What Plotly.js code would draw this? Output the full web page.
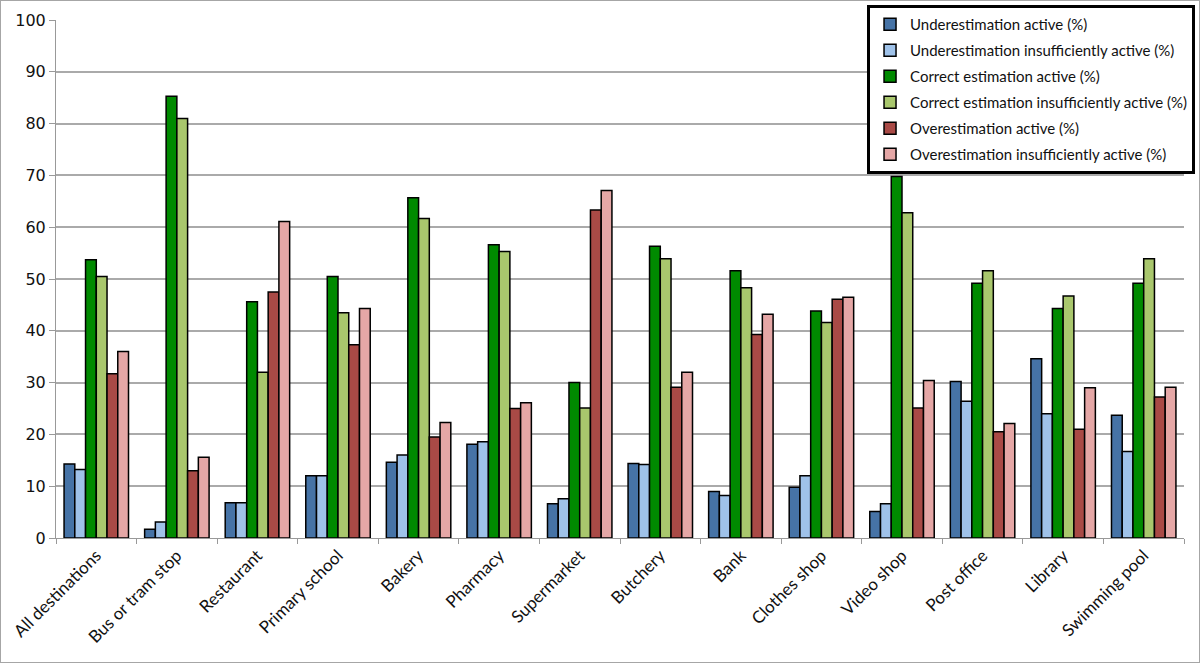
<!DOCTYPE html>
<html>
<head>
<meta charset="utf-8">
<script src="https://cdn.plot.ly/plotly-3.0.1.min.js"></script>
<style>
  body { margin: 0; background: #fff; }
  #chart { width: 1198px; height: 661px; border: 1px solid #a6a6a6; }
</style>
</head>
<body>
<div id="chart"></div>
<script>
const destinations = ["All destinations", "Bus or tram stop", "Restaurant", "Primary school", "Bakery",
  "Pharmacy", "Supermarket", "Butchery", "Bank", "Clothes shop", "Video shop", "Post office",
  "Library", "Swimming pool"];

const underActive    = [14.3, 1.7, 6.8, 12.0, 14.6, 18.1, 6.6, 14.4, 9.0, 9.8, 5.1, 30.2, 34.6, 23.7];
const underInsuff    = [13.2, 3.1, 6.8, 12.0, 16.0, 18.6, 7.6, 14.2, 8.2, 12.0, 6.6, 26.4, 24.0, 16.7];
const correctActive  = [53.7, 85.3, 45.6, 50.5, 65.7, 56.6, 30.0, 56.3, 51.6, 43.8, 69.8, 49.2, 44.3, 49.2];
const correctInsuff  = [50.5, 81.0, 32.0, 43.5, 61.7, 55.3, 25.1, 53.9, 48.3, 41.6, 62.8, 51.6, 46.7, 53.9];
const overActive     = [31.7, 13.0, 47.5, 37.3, 19.5, 25.0, 63.3, 29.1, 39.3, 46.1, 25.1, 20.5, 21.0, 27.2];
const overInsuff     = [36.0, 15.6, 61.1, 44.3, 22.3, 26.1, 67.1, 32.0, 43.2, 46.5, 30.4, 22.1, 29.0, 29.1];

const seriesNames = [
  "Underestimation active (%)",
  "Underestimation insufficiently active (%)",
  "Correct estimation active (%)",
  "Correct estimation insufficiently active (%)",
  "Overestimation active (%)",
  "Overestimation insufficiently active (%)"
];
const seriesColors = ["#4673a6", "#9fc2e9", "#008a00", "#a9c76d", "#a94a46", "#e5a7a6"];
const seriesValues = [underActive, underInsuff, correctActive, correctInsuff, overActive, overInsuff];

// one legend group per trace so tracegroupgap can widen the legend rows
const traces = seriesValues.map((vals, i) => ({
  type: "bar",
  name: seriesNames[i],
  legendgroup: "g" + i,
  x: destinations,
  y: vals,
  marker: { color: seriesColors[i], line: { color: "#000", width: 1.5 } },
  hoverinfo: "x+y+name"
}));

const layout = {
  width: 1198,
  height: 661,
  margin: { l: 55, r: 4, t: 19, b: 124 },
  paper_bgcolor: "#fff",
  plot_bgcolor: "#fff",
  barmode: "group",
  bargap: 0.2,
  bargroupgap: 0,
  font: { family: "Lato, 'DejaVu Sans', sans-serif", color: "#111" },
  xaxis: {
    type: "category",
    tickangle: -45,
    tickson: "boundaries",
    ticks: "outside",
    ticklen: 5,
    tickcolor: "#999",
    showline: true,
    linecolor: "#999",
    linewidth: 1,
    showgrid: false,
    tickfont: { family: "Lato, sans-serif", size: 17, color: "#111" }
  },
  yaxis: {
    range: [0, 100],
    dtick: 10,
    ticks: "outside",
    ticklen: 6,
    tickcolor: "#999",
    showline: true,
    linecolor: "#999",
    gridcolor: "#aaaaaa",
    gridwidth: 2,
    zeroline: false,
    tickfont: { family: "'DejaVu Sans', sans-serif", size: 16, color: "#111" }
  },
  legend: {
    x: 0.719,
    y: 1.029,
    xanchor: "left",
    yanchor: "top",
    bgcolor: "#fff",
    bordercolor: "#000",
    borderwidth: 3,
    font: { family: "Lato, sans-serif", size: 15, color: "#111" },
    traceorder: "grouped",
    tracegroupgap: 3.5
  }
};

Plotly.newPlot("chart", traces, layout, { displayModeBar: false });
</script>
</body>
</html>
